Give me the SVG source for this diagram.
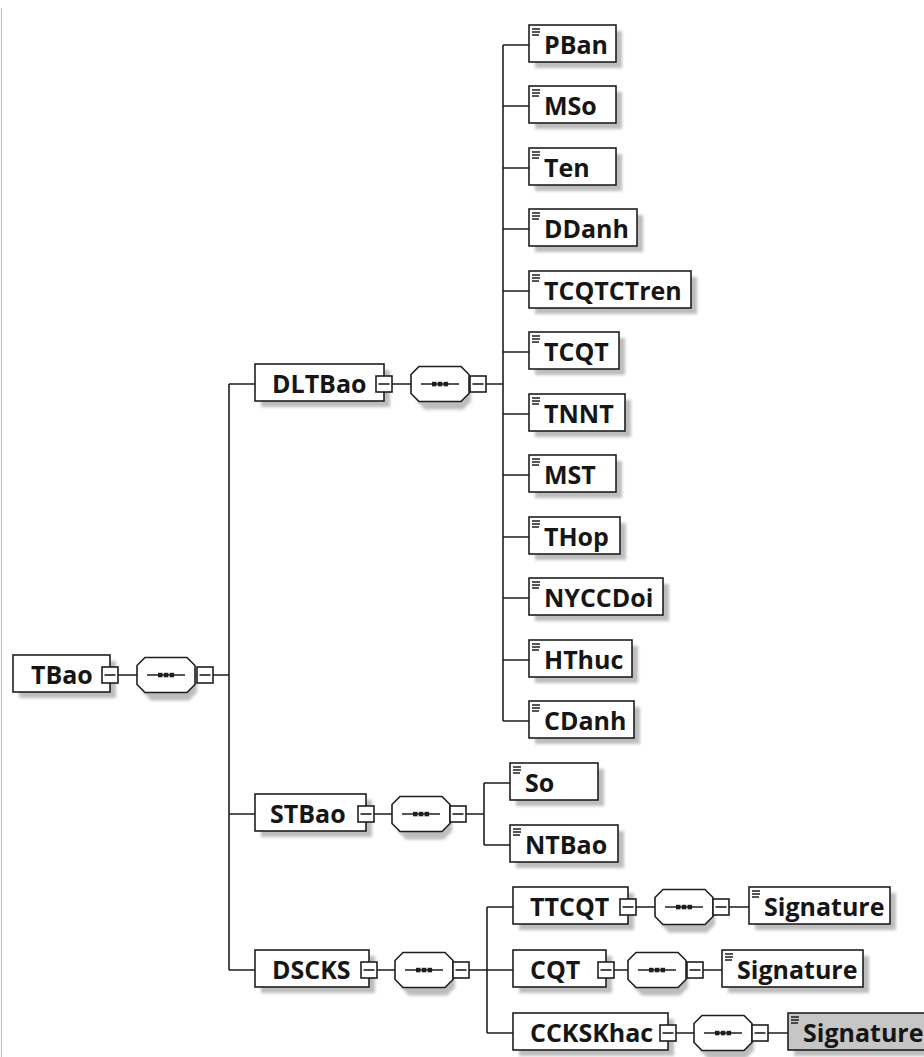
<svg xmlns="http://www.w3.org/2000/svg" width="924" height="1057" viewBox="0 0 924 1057">
<defs>
<filter id="blur" x="-20%" y="-20%" width="140%" height="140%"><feGaussianBlur stdDeviation="1.8"/></filter>
<style>
.b{fill:#fff;stroke:#1e1e1e;stroke-width:1.6}
.g{fill:#c6c6c6;stroke:#1e1e1e;stroke-width:1.6}
.s{fill:#bdbdbd;filter:url(#blur)}
.t{font-family:"Open Sans","Noto Sans","DejaVu Sans",sans-serif;font-weight:700;font-size:25px;fill:#161616}
.c{stroke:#1e1e1e;stroke-width:1.6;fill:none}
.i{stroke:#1e1e1e;stroke-width:1.5;fill:none}
.d{fill:#1e1e1e}
</style>
<g id="ex"><rect class="b" x="0" y="0" width="16" height="16"/><line class="c" x1="2.5" y1="8" x2="13.5" y2="8"/></g>
<g id="ic"><path class="i" d="M3,4H11M3,7H11M3,10H10"/></g>
<g id="sq"><path class="s" d="M14,6H52L60,14V35L52,43H14L6,35V14Z"/><path class="b" d="M8,0H50L58,8V27L50,35H8L0,27V8Z"/><line class="c" x1="10" y1="17.5" x2="48" y2="17.5"/><rect class="d" x="21" y="15.3" width="4.5" height="4.5"/><rect class="d" x="26.8" y="15.3" width="4.5" height="4.5"/><rect class="d" x="32.6" y="15.3" width="4.5" height="4.5"/></g>
</defs>
<rect x="0" y="0" width="924" height="1057" fill="#fff"/>
<line x1="1.5" y1="8" x2="1.5" y2="1057" stroke="#c4c4c4" stroke-width="1.2"/>

<g id="connectors" class="c">
<path d="M118,675H137M213,675H229M229,384V970M229,384H255M229,814H255M229,970H255"/>
<path d="M392,384H411M486,384H503M503,45V721M503,45H529M503,106H529M503,168H529M503,229H529M503,291H529M503,352H529M503,414H529M503,475H529M503,537H529M503,598H529M503,660H529M503,721H529"/>
<path d="M374,814H392M466,814H484M484,783V845M484,783H510M484,845H510"/>
<path d="M377,970H395M469,970H487M487,907V1033M487,907H513M487,970H513M487,1033H513"/>
<path d="M636,907H655M729,907H749M614,970H628M703,970H722M676,1033H694M768,1033H788"/>
</g>

<g id="TBao"><rect class="s" x="19" y="661" width="97" height="37"/><rect class="b" x="13" y="655" width="97" height="37"/><text class="t" x="31" y="684">TBao</text><use href="#ex" x="102" y="667"/></g>
<g id="seq-TBao"><use href="#sq" x="137" y="657.5"/><use href="#ex" x="197" y="667"/></g>

<g id="DLTBao"><rect class="s" x="261" y="370" width="129" height="37"/><rect class="b" x="255" y="364" width="129" height="37"/><text class="t" x="272" y="393">DLTBao</text><use href="#ex" x="376" y="376"/></g>
<g id="seq-DLTBao"><use href="#sq" x="411" y="366.5"/><use href="#ex" x="470" y="376"/></g>

<g id="PBan"><rect class="s" x="535" y="31" width="87" height="37"/><rect class="b" x="529" y="25" width="87" height="37"/><use href="#ic" x="529" y="25"/><text class="t" x="544" y="54">PBan</text></g>
<g id="MSo"><rect class="s" x="535" y="92" width="87" height="37"/><rect class="b" x="529" y="86" width="87" height="37"/><use href="#ic" x="529" y="86"/><text class="t" x="544" y="115">MSo</text></g>
<g id="Ten"><rect class="s" x="535" y="154" width="87" height="37"/><rect class="b" x="529" y="148" width="87" height="37"/><use href="#ic" x="529" y="148"/><text class="t" x="544" y="177">Ten</text></g>
<g id="DDanh"><rect class="s" x="535" y="215" width="108" height="37"/><rect class="b" x="529" y="209" width="108" height="37"/><use href="#ic" x="529" y="209"/><text class="t" x="544" y="238">DDanh</text></g>
<g id="TCQTCTren"><rect class="s" x="535" y="277" width="162" height="37"/><rect class="b" x="529" y="271" width="162" height="37"/><use href="#ic" x="529" y="271"/><text class="t" x="544" y="300">TCQTCTren</text></g>
<g id="TCQT"><rect class="s" x="535" y="338" width="90" height="37"/><rect class="b" x="529" y="332" width="90" height="37"/><use href="#ic" x="529" y="332"/><text class="t" x="544" y="361">TCQT</text></g>
<g id="TNNT"><rect class="s" x="535" y="400" width="96" height="37"/><rect class="b" x="529" y="394" width="96" height="37"/><use href="#ic" x="529" y="394"/><text class="t" x="544" y="423">TNNT</text></g>
<g id="MST"><rect class="s" x="535" y="461" width="87" height="37"/><rect class="b" x="529" y="455" width="87" height="37"/><use href="#ic" x="529" y="455"/><text class="t" x="544" y="484">MST</text></g>
<g id="THop"><rect class="s" x="535" y="523" width="91" height="37"/><rect class="b" x="529" y="517" width="91" height="37"/><use href="#ic" x="529" y="517"/><text class="t" x="544" y="546">THop</text></g>
<g id="NYCCDoi"><rect class="s" x="535" y="584" width="134" height="37"/><rect class="b" x="529" y="578" width="134" height="37"/><use href="#ic" x="529" y="578"/><text class="t" x="544" y="607">NYCCDoi</text></g>
<g id="HThuc"><rect class="s" x="535" y="646" width="103" height="37"/><rect class="b" x="529" y="640" width="103" height="37"/><use href="#ic" x="529" y="640"/><text class="t" x="544" y="669">HThuc</text></g>
<g id="CDanh"><rect class="s" x="535" y="707" width="105" height="37"/><rect class="b" x="529" y="701" width="105" height="37"/><use href="#ic" x="529" y="701"/><text class="t" x="544" y="730">CDanh</text></g>

<g id="STBao"><rect class="s" x="261" y="800" width="111" height="37"/><rect class="b" x="255" y="794" width="111" height="37"/><text class="t" x="270" y="823">STBao</text><use href="#ex" x="358" y="806"/></g>
<g id="seq-STBao"><use href="#sq" x="392" y="796.5"/><use href="#ex" x="450" y="806"/></g>
<g id="So"><rect class="s" x="516" y="769" width="88" height="37"/><rect class="b" x="510" y="763" width="88" height="37"/><use href="#ic" x="510" y="763"/><text class="t" x="525" y="792">So</text></g>
<g id="NTBao"><rect class="s" x="516" y="831" width="108" height="37"/><rect class="b" x="510" y="825" width="108" height="37"/><use href="#ic" x="510" y="825"/><text class="t" x="525" y="854">NTBao</text></g>

<g id="DSCKS"><rect class="s" x="261" y="956" width="114" height="37"/><rect class="b" x="255" y="950" width="114" height="37"/><text class="t" x="272" y="979">DSCKS</text><use href="#ex" x="361" y="962"/></g>
<g id="seq-DSCKS"><use href="#sq" x="395" y="952.5"/><use href="#ex" x="453" y="962"/></g>

<g id="TTCQT"><rect class="s" x="519" y="893" width="115" height="37"/><rect class="b" x="513" y="887" width="115" height="37"/><text class="t" x="530" y="916">TTCQT</text><use href="#ex" x="620" y="899"/></g>
<g id="seq-TTCQT"><use href="#sq" x="655" y="889.5"/><use href="#ex" x="713" y="899"/></g>
<g id="Signature-TTCQT"><rect class="s" x="755" y="893" width="141" height="37"/><rect class="b" x="749" y="887" width="141" height="37"/><use href="#ic" x="749" y="887"/><text class="t" x="764" y="916">Signature</text></g>

<g id="CQT"><rect class="s" x="519" y="956" width="93" height="37"/><rect class="b" x="513" y="950" width="93" height="37"/><text class="t" x="530" y="979">CQT</text><use href="#ex" x="598" y="962"/></g>
<g id="seq-CQT"><use href="#sq" x="628" y="952.5"/><use href="#ex" x="687" y="962"/></g>
<g id="Signature-CQT"><rect class="s" x="728" y="956" width="141" height="37"/><rect class="b" x="722" y="950" width="141" height="37"/><use href="#ic" x="722" y="950"/><text class="t" x="737" y="979">Signature</text></g>

<g id="CCKSKhac"><rect class="s" x="519" y="1019" width="155" height="37"/><rect class="b" x="513" y="1013" width="155" height="37"/><text class="t" x="530" y="1042">CCKSKhac</text><use href="#ex" x="660" y="1025"/></g>
<g id="seq-CCKSKhac"><use href="#sq" x="694" y="1015.5"/><use href="#ex" x="752" y="1025"/></g>
<g id="Signature-CCKSKhac"><rect class="s" x="794" y="1019" width="150" height="37"/><rect class="g" x="788" y="1013" width="150" height="37"/><use href="#ic" x="788" y="1013"/><text class="t" x="803" y="1042">Signature</text></g>
</svg>
